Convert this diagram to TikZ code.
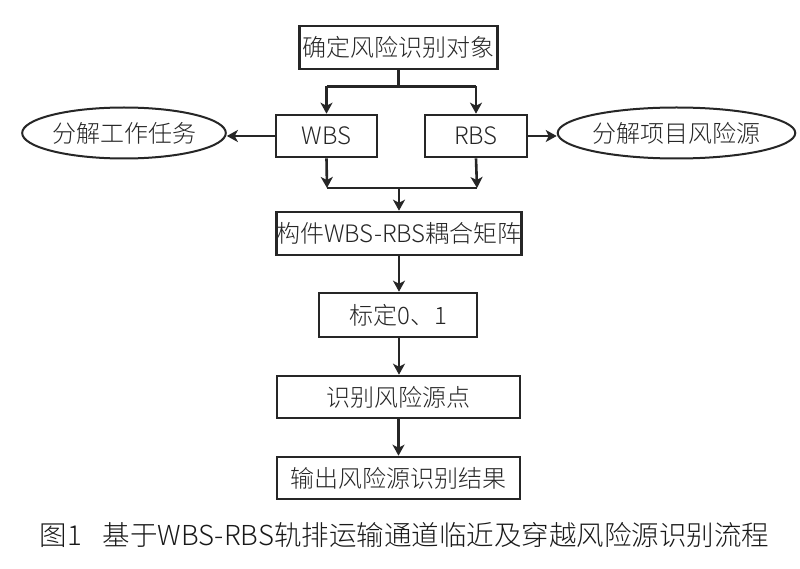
\documentclass[tikz,border=0pt]{standalone}
\usepackage{fontspec}
\setmainfont{Noto Sans CJK SC}[UprightFont=* Light]
\usetikzlibrary{arrows.meta,shapes.geometric}
\tikzset{
  boxnode/.style={draw=black!85, line width=2.6pt, rectangle, inner sep=0pt, font=\fontsize{24}{26}\selectfont, text=black!85},
  ellnode/.style={draw=black!85, line width=2pt, ellipse, inner sep=0pt, font=\fontsize{24}{26}\selectfont, text=black!85},
  conn/.style={draw=black!85, line width=2.6pt},
  arr/.style={conn, -{Stealth[length=11pt,width=12pt,inset=3pt]}},
  captext/.style={font=\fontsize{27.5}{30}\selectfont, text=black!90, inner sep=0pt}
}
\begin{document}
\begin{tikzpicture}[x=1pt,y=-1pt]
\useasboundingbox[fill=white] (0,0) rectangle (800,569);
\node[boxnode, minimum width=198pt, minimum height=43pt] (top) at (398.5,47.5) {确定风险识别对象};
\node[boxnode, minimum width=101pt, minimum height=42pt] (wbs) at (326.5,136) {WBS};
\node[boxnode, minimum width=102pt, minimum height=42pt] (rbs) at (476,136) {RBS};
\node[ellnode, minimum width=196pt, minimum height=51pt] (el) at (124,133) {分解工作任务};
\node[ellnode, minimum width=195pt, minimum height=51pt] (er) at (676.5,133) {分解项目风险源};
\node[boxnode, minimum width=242pt, minimum height=43pt] (mat) at (399,233.5) {构件WBS-RBS耦合矩阵};
\node[boxnode, minimum width=158pt, minimum height=44pt] (cal) at (398,315) {标定0、1};
\node[boxnode, minimum width=243pt, minimum height=42pt] (ide) at (398.5,397) {识别风险源点};
\node[boxnode, minimum width=243pt, minimum height=42pt] (out) at (398.5,478) {输出风险源识别结果};
\node[captext] (cap) at (404.5,535) {图1\hspace{0.75em}基于WBS-RBS轨排运输通道临近及穿越风险源识别流程};

\coordinate (split) at (398.5,86.5);
\coordinate (mergel) at (327,188);
\coordinate (merger) at (477,188);
\coordinate (merge) at (399,188);

\draw[conn] (top.south) -- (split);
\draw[conn] (split -| wbs.north) -- (split -| rbs.north);
\draw[arr] (split -| wbs.north) -- (wbs.north);
\draw[arr] (split -| rbs.north) -- (rbs.north);
\draw[arr] (wbs.west) -- (wbs.west -| el.east);
\draw[arr] (rbs.east) -- (rbs.east -| er.west);
\draw[arr] (wbs.south) -- (mergel);
\draw[arr] (rbs.south) -- (merger);
\draw[conn] (mergel) -- (merger);
\draw[arr] (merge) -- (mat.north);
\draw[arr] (mat.south) -- (mat.south |- cal.north);
\draw[arr] (mat.south |- cal.south) -- (mat.south |- ide.north);
\draw[arr] (ide.south) -- (out.north);
\end{tikzpicture}
\end{document}
